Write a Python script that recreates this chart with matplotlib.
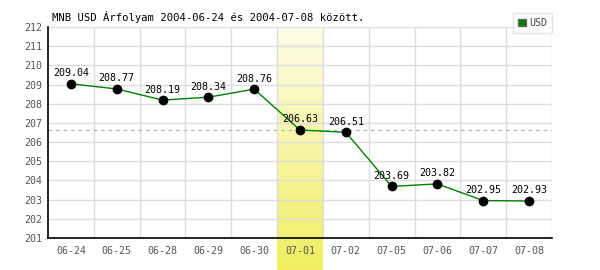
import numpy as np
import matplotlib
matplotlib.use("Agg")
import matplotlib.pyplot as plt
from matplotlib.patches import Patch

dates = ["06-24", "06-25", "06-28", "06-29", "06-30", "07-01",
         "07-02", "07-05", "07-06", "07-07", "07-08"]
usd = [209.04, 208.77, 208.19, 208.34, 208.76, 206.63,
       206.51, 203.69, 203.82, 202.95, 202.93]
highlight_idx = 5
ref_value = 206.63
title = "MNB USD Árfolyam 2004-06-24 és 2004-07-08 között."

plt.rcParams["font.family"] = ["DejaVu Sans Mono"]
fs = 7.2

fig = plt.figure(figsize=(6, 2.7), dpi=100)
ax = fig.add_axes([48 / 600, 32 / 270, 504 / 600, 211 / 270])

x = np.arange(len(dates))
ax.set_xlim(-0.5, len(dates) - 0.5)
ax.set_ylim(201, 212)

# highlighted day, gradient running below the axis
grad = np.linspace(0, 1, 256).reshape(-1, 1)
cmap = matplotlib.colors.LinearSegmentedColormap.from_list(
    "hl", ["#fdfde8", "#f0ee60"])
y_bottom = 201 - 32 / (211 / 11)
ax.imshow(grad, cmap=cmap, aspect="auto", origin="upper",
          extent=[highlight_idx - 0.5, highlight_idx + 0.5, y_bottom, 212],
          clip_on=False, zorder=0)

# grid
for yv in range(202, 213):
    ax.axhline(yv, color="#dddddd", lw=1, zorder=1)
for xv in np.arange(0.5, len(dates), 1.0):
    ax.axvline(xv, color="#dddddd", lw=1, zorder=1)

ax.axhline(ref_value, color="#a8c0a8", lw=0.9, ls=(0, (3, 3)), zorder=2)

ax.plot(x, usd, color="#008000", lw=1, zorder=3)
ax.plot(x, usd, "o", color="black", ms=6, zorder=4)
for xi, v in zip(x, usd):
    ax.annotate(f"{v:.2f}", (xi, v), xytext=(0, 4), textcoords="offset points",
                ha="center", va="bottom", fontsize=fs, color="black", zorder=5)

ax.set_xticks(x)
ax.set_xticklabels(dates)
ax.set_yticks(range(201, 213))
ax.tick_params(length=0, labelsize=fs, colors="#555555", pad=6)
ax.tick_params(axis="y", pad=4)
ax.set_facecolor("white")

for s in ["top", "right"]:
    ax.spines[s].set_visible(False)
ax.spines["left"].set_color("black")
ax.spines["bottom"].set_color("black")
ax.spines["left"].set_linewidth(1.2)
ax.spines["bottom"].set_linewidth(1.2)

fig.text(52 / 600, 1 - 17 / 270, title, fontsize=7.6, va="center", ha="left")

leg = fig.legend(handles=[Patch(facecolor="#008000", edgecolor="#666666", label="USD")],
                 loc="upper right", bbox_to_anchor=(552 / 600, 1 - 13 / 270),
                 fontsize=fs, frameon=True, fancybox=False, handlelength=0.8,
                 handleheight=0.8, handletextpad=0.3, borderpad=0.5,
                 borderaxespad=0)
leg.get_frame().set_edgecolor("#dddddd")
leg.get_frame().set_linewidth(1)
for t in leg.get_texts():
    t.set_color("#444444")

fig.savefig("out.png", dpi=100)
